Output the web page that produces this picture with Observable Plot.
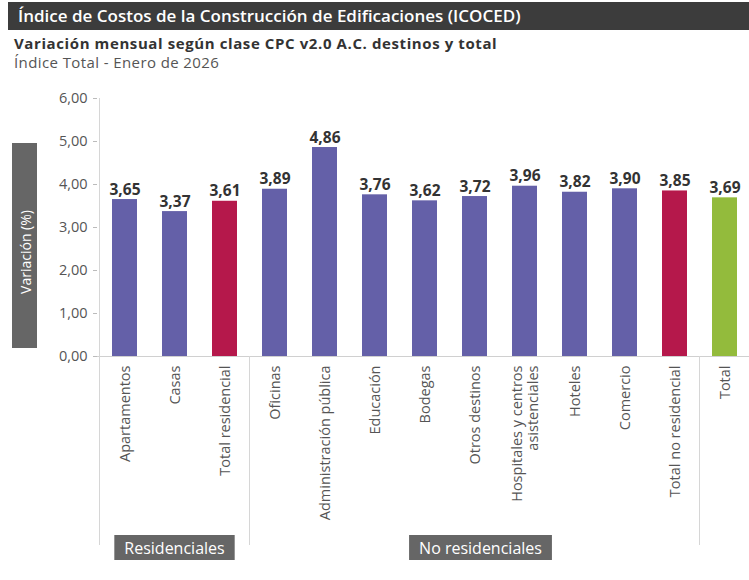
<!DOCTYPE html>
<html><head><meta charset="utf-8">
<script src="https://cdn.jsdelivr.net/npm/d3@7"></script>
<script src="https://cdn.jsdelivr.net/npm/@observablehq/plot@0.6"></script>
<style>
body{margin:0;background:#fff;font-family:"Open Sans",sans-serif;width:749px;height:580px;overflow:hidden;position:relative}
#t{position:absolute;left:8px;top:2px;width:741px;height:28px;background:#3c3c3c;color:#fff;font-weight:600;font-size:17px;line-height:28px;padding-left:10px;box-sizing:border-box;white-space:nowrap}
#s{position:absolute;left:14px;top:35px;font-weight:700;font-size:15px;line-height:16px;color:#333;white-space:nowrap;letter-spacing:0.6px}
#s2{position:absolute;left:14px;top:54px;font-size:15px;line-height:16px;color:#555;white-space:nowrap;letter-spacing:0.4px}
#chart{position:absolute;left:0;top:80px}
</style></head><body>
<div id="t">Índice de Costos de la Construcción de Edificaciones (ICOCED)</div>
<div id="s">Variación mensual según clase CPC v2.0 A.C. destinos y total</div>
<div id="s2">Índice Total - Enero de 2026</div>
<div id="chart"></div>
<script>
const categories = ["Apartamentos","Casas","Total residencial","Oficinas","Administración pública","Educación","Bodegas","Otros destinos","Hospitales y centros\nasistenciales","Hoteles","Comercio","Total no residencial","Total"];
const values = [3.65,3.37,3.61,3.89,4.86,3.76,3.62,3.72,3.96,3.82,3.90,3.85,3.69];
const kinds = ["destino","destino","subtotal","destino","destino","destino","destino","destino","destino","destino","destino","subtotal","total"];
const groupIndex = [0,0,0,1,1,1,1,1,1,1,1,1,2];
const groupNames = ["Residenciales","No residenciales",""];
const yTicks = [0,1,2,3,4,5,6];
const yLabel = "Variación (%)";
const kindColors = {destino:"#6460a8", subtotal:"#b5184b", total:"#93bb3c"};

const data = categories.map((c,i)=>({cat:c, value:values[i], kind:kinds[i], group:groupIndex[i]}));
const fmt = v => v.toFixed(2).replace(".", ",");

const W = 749, H = 500;
const plot = Plot.plot({
  width: W, height: H,
  marginTop: 18, marginBottom: 224, marginLeft: 97, marginRight: 0,
  style: {fontFamily: "'Open Sans', sans-serif", background: "#fff"},
  x: {type: "band", domain: categories, range: [97, 751], paddingInner: 0.5, paddingOuter: 0.25, axis: null},
  y: {domain: [0, 6], axis: null},
  marks: [
    Plot.axisY({ticks: yTicks, tickFormat: fmt, tickSize: 4, tickPadding: 6, fontSize: 14.5, fill: "#555", stroke: "#bbb", label: null}),
    Plot.barY(data, {x: "cat", y: "value", fill: d => kindColors[d.kind]}),
    Plot.ruleY([0], {stroke: "#d0d0d0"}),
    Plot.text(data, {x: "cat", y: "value", text: d => fmt(d.value), lineAnchor: "bottom", dy: -5, fontSize: 15.5, fontWeight: 700, fill: "#333"}),
    Plot.text(data, {x: "cat", y: () => 0, text: "cat", rotate: -90, textAnchor: "end", lineAnchor: "middle", dy: 9, fontSize: 14.5, fill: "#555", lineHeight: 1.05})
  ]
});
document.getElementById("chart").appendChild(plot);

const sx = plot.scale("x"), sy = plot.scale("y");
const bw = sx.bandwidth;
const step = sx.apply(categories[1]) - sx.apply(categories[0]);
const center = c => sx.apply(c) + bw / 2;
const svg = d3.select(plot);
const bottomY = 465;

const bounds = [];
groupNames.forEach((g, gi) => {
  const cats = categories.filter((c, i) => groupIndex[i] === gi);
  const left = center(cats[0]) - step / 2;
  const right = center(cats[cats.length - 1]) + step / 2;
  bounds.push({g, left, right});
});
const sepXs = Array.from(new Set(bounds.flatMap(b => [b.left, b.right])));
const lines = svg.append("g");
sepXs.forEach((x, i) => {
  lines.append("line").attr("x1", x).attr("x2", x)
    .attr("y1", i === 0 ? sy.apply(6) : sy.apply(0)).attr("y2", bottomY)
    .attr("stroke", "#d6d6d6").attr("stroke-width", 1);
});
bounds.forEach(b => {
  if (!b.g) return;
  const cx = (b.left + b.right) / 2 + (b.g === "No residenciales" ? 6 : 0);
  const gEl = svg.append("g");
  const txt = gEl.append("text").attr("x", cx).attr("y", 455 + 13).attr("text-anchor", "middle")
    .attr("dominant-baseline", "central").attr("fill", "#fff").attr("font-size", 16).text(b.g);
  const tw = txt.node().getComputedTextLength();
  gEl.insert("rect", "text").attr("x", cx - tw / 2 - 10).attr("y", 455).attr("width", tw + 20).attr("height", 25).attr("fill", "#666");
});
const yl = svg.append("g");
yl.append("rect").attr("x", 12).attr("y", 63).attr("width", 25).attr("height", 205).attr("fill", "#666");
yl.append("text").attr("transform", "translate(25,172) rotate(-90)").attr("text-anchor", "middle")
  .attr("dominant-baseline", "central").attr("fill", "#fff").attr("font-size", 14).text(yLabel);
</script>
</body></html>
